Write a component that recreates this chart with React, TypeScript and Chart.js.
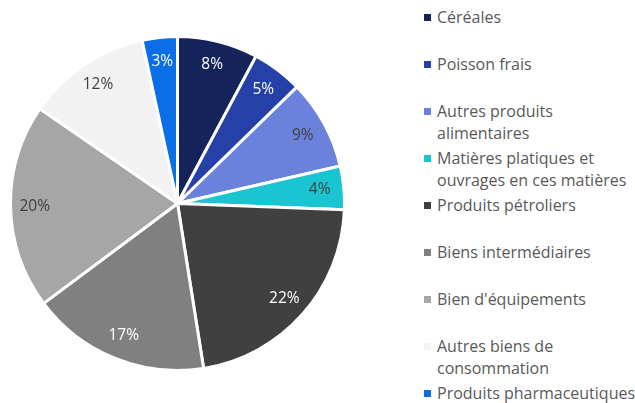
import React, { useEffect, useRef } from "react";
import { Chart, registerables } from "chart.js";

Chart.register(...registerables);

const categories: string[][] = [
  ["Céréales"],
  ["Poisson frais"],
  ["Autres produits", "alimentaires"],
  ["Matières platiques et", "ouvrages en ces matières"],
  ["Produits pétroliers"],
  ["Biens intermédiaires"],
  ["Bien d'équipements"],
  ["Autres biens de", "consommation"],
  ["Produits pharmaceutiques"],
];
const shares: number[] = [7.8, 4.9, 8.7, 4.2, 21.9, 17.3, 19.8, 12.0, 3.4];
const colors: string[] = [
  "#14245a", "#2541a8", "#6a82dc", "#18c5d0", "#404040",
  "#808080", "#a6a6a6", "#f2f2f2", "#0a6ee6",
];
const labelColors: string[] = [
  "#ffffff", "#ffffff", "#404040", "#404040", "#ffffff",
  "#ffffff", "#404040", "#404040", "#ffffff",
];

const FONT = "'Open Sans', sans-serif";

const sliceLabels = {
  id: "sliceLabels",
  afterDatasetsDraw(chart: any) {
    const ctx = chart.ctx;
    const meta = chart.getDatasetMeta(0);
    ctx.save();
    ctx.font = `15.5px ${FONT}`;
    ctx.textAlign = "center";
    ctx.textBaseline = "middle";
    meta.data.forEach((arc: any, i: number) => {
      const { x, y, startAngle, endAngle, outerRadius } = arc.getProps(
        ["x", "y", "startAngle", "endAngle", "outerRadius"],
        true
      );
      const mid = (startAngle + endAngle) / 2;
      const r = outerRadius * 0.855;
      ctx.fillStyle = labelColors[i];
      ctx.fillText(`${Math.round(shares[i])}%`, x + Math.cos(mid) * r, y + Math.sin(mid) * r);
    });
    ctx.restore();
  },
};

export default function App() {
  const ref = useRef<HTMLCanvasElement>(null);
  useEffect(() => {
    document.body.style.margin = "0";
    const chart = new Chart(ref.current!, {
      type: "pie",
      data: {
        labels: categories.map((c) => c.join(" ")),
        datasets: [
          {
            data: shares,
            backgroundColor: colors,
            borderColor: "#ffffff",
            borderWidth: 3,
          },
        ],
      },
      options: {
        animation: false,
        responsive: false,
        layout: { padding: 0 },
        plugins: {
          legend: { display: false },
          tooltip: { enabled: false },
        },
      },
      plugins: [sliceLabels],
    });
    return () => chart.destroy();
  }, []);

  return (
    <div style={{ position: "relative", width: 635, height: 403, background: "#fff", overflow: "hidden" }}>
      <canvas
        ref={ref}
        width={337}
        height={337}
        style={{ position: "absolute", left: 8.5, top: 34.5, width: 337, height: 337 }}
      />
      {categories.map((lines, i) => (
        <div
          key={i}
          style={{
            position: "absolute",
            left: 424,
            top: 17 + 47 * i - 11.5,
            fontFamily: FONT,
            fontSize: 16,
            lineHeight: "22.5px",
            color: "#595959",
            whiteSpace: "nowrap",
          }}
        >
          <span
            style={{
              position: "absolute",
              left: 0,
              top: 8,
              width: 7,
              height: 7,
              background: colors[i],
            }}
          />
          <div style={{ marginLeft: 13 }}>
            {lines.map((l, j) => (
              <div key={j}>{l}</div>
            ))}
          </div>
        </div>
      ))}
    </div>
  );
}
